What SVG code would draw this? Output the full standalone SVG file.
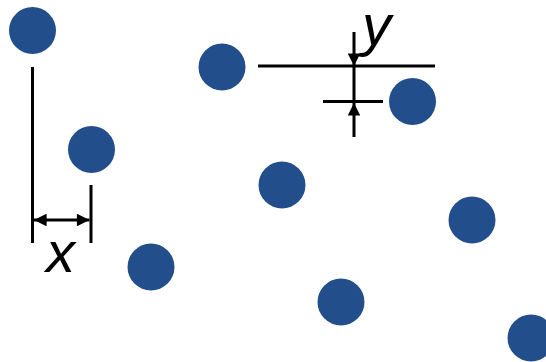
<svg xmlns="http://www.w3.org/2000/svg" width="546" height="362" viewBox="0 0 546 362">
<style>
.dot{fill:#224e8b}
.ln{stroke:#000;stroke-width:3;fill:none}
.lbl{font-family:"Liberation Sans",Arial,sans-serif;font-style:italic;font-size:58px;fill:#000}
</style>
<defs>
<marker id="ah" viewBox="0 0 10 10" refX="10" refY="5" markerWidth="6" markerHeight="4.2" orient="auto-start-reverse" markerUnits="strokeWidth">
<path d="M0,0 L10,5 L0,10 z" fill="#000"/>
</marker>
</defs>
<rect width="546" height="362" fill="#fff"/>
<g id="dots">
<circle id="d1" class="dot" cx="32.5" cy="30.5" r="23.5"/>
<circle id="d2" class="dot" cx="91.5" cy="149.5" r="23.5"/>
<circle id="d3" class="dot" cx="151" cy="267" r="23.5"/>
<circle id="d4" class="dot" cx="222" cy="67" r="23.5"/>
<circle id="d5" class="dot" cx="282" cy="185" r="23.5"/>
<circle id="d6" class="dot" cx="341" cy="302" r="23.5"/>
<circle id="d7" class="dot" cx="412.5" cy="101.5" r="23.5"/>
<circle id="d8" class="dot" cx="472" cy="220" r="23.5"/>
<circle id="d9" class="dot" cx="531" cy="338" r="23.5"/>
</g>
<g id="connectors">
<line class="ln" x1="32.5" y1="67" x2="32.5" y2="243"/>
<line class="ln" x1="91" y1="185" x2="91" y2="243"/>
<line class="ln" x1="34" y1="220" x2="89.5" y2="220" marker-start="url(#ah)" marker-end="url(#ah)"/>
<line class="ln" x1="258" y1="66" x2="435" y2="66"/>
<line class="ln" x1="323" y1="101.5" x2="383" y2="101.5"/>
<line class="ln" x1="354" y1="32" x2="354" y2="66" marker-end="url(#ah)"/>
<line class="ln" x1="354" y1="137" x2="354" y2="103" marker-end="url(#ah)"/>
<line class="ln" x1="354" y1="66" x2="354" y2="102"/>
</g>
<text class="lbl" x="46" y="272">x</text>
<text class="lbl" x="362" y="45">y</text>
</svg>
